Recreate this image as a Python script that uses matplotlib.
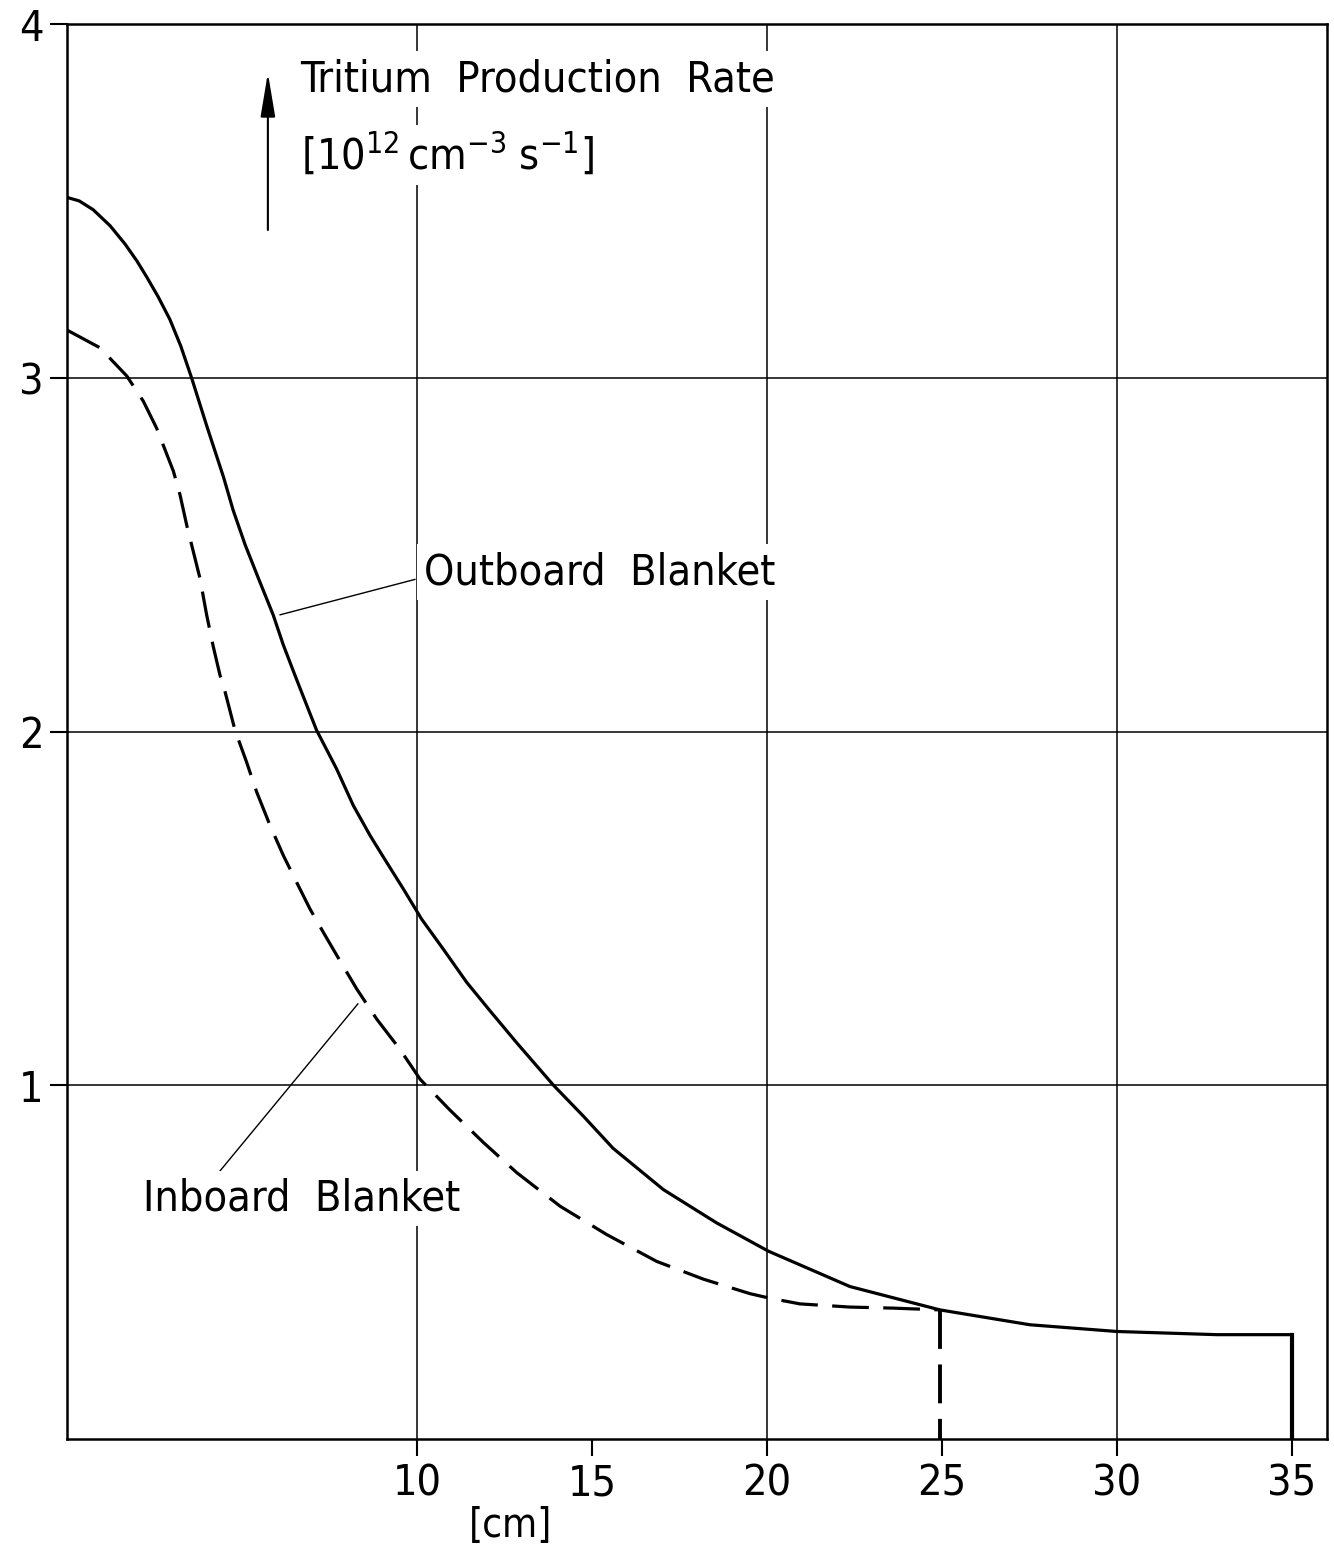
import matplotlib
matplotlib.use("Agg")
import matplotlib.pyplot as plt

# distance into blanket [cm] and tritium production rate [1e12 cm^-3 s^-1]
outboard_x = [0, 0.35, 0.75, 1.23, 1.66, 2.0, 2.29, 2.6, 2.94, 3.25, 3.56,
              3.99, 4.47, 4.75, 5.09, 5.47, 5.89, 6.18, 6.51, 6.66, 7.13,
              7.70, 8.18, 8.66, 9.04, 9.61, 10.13, 10.75, 11.42, 12.09,
              12.85, 13.9, 14.75, 15.6, 17.04, 18.56, 20.04, 22.37, 24.94,
              27.51, 29.99, 32.85, 35.0]
outboard_y = [3.51, 3.50, 3.475, 3.43, 3.378, 3.33, 3.283, 3.23, 3.165, 3.09,
              3.0, 2.865, 2.72, 2.625, 2.528, 2.433, 2.33, 2.245, 2.16, 2.122,
              2.004, 1.895, 1.791, 1.706, 1.645, 1.555, 1.47, 1.385, 1.291,
              1.21, 1.12, 1.0, 0.913, 0.822, 0.705, 0.611, 0.531, 0.431,
              0.365, 0.323, 0.304, 0.295, 0.295]

inboard_x = [0, 0.94, 1.71, 2.18, 2.56, 3.04, 3.23, 3.42, 3.80, 3.99, 4.18,
             4.37, 4.51, 4.80, 5.13, 5.42, 5.80, 6.18, 6.56, 6.94, 7.32, 7.71,
             8.28, 8.85, 9.51, 10.09, 10.94, 11.9, 12.85, 14.09, 15.42,
             16.85, 18.18, 19.51, 20.04, 20.94, 22.37, 23.61, 24.94]
inboard_y = [3.135, 3.085, 3.005, 2.934, 2.858, 2.736, 2.669, 2.584, 2.433,
             2.33, 2.24, 2.16, 2.115, 2.004, 1.914, 1.829, 1.735, 1.65, 1.574,
             1.499, 1.433, 1.367, 1.272, 1.187, 1.102, 1.017, 0.93, 0.838,
             0.753, 0.658, 0.578, 0.502, 0.452, 0.411, 0.399, 0.382, 0.373,
             0.37, 0.365]

x_ticks = [10, 15, 20, 25, 30, 35]
y_ticks = [1, 2, 3, 4]
grid_x = [10, 20, 30]
grid_y = [1, 2, 3]

plt.rcParams["font.family"] = ["DejaVu Sans"]
plt.rcParams["font.stretch"] = "condensed"
plt.rcParams["mathtext.fontset"] = "dejavusans"

fig = plt.figure(figsize=(13.34, 15.51), dpi=100)
ax = fig.add_axes([0.0502, 0.0722, 0.9446, 0.9123])
ax.set_xlim(0, 36)
ax.set_ylim(0, 4)

# grid
ax.vlines(grid_x, 0, 4, color="black", lw=1.1, zorder=1)
ax.hlines(grid_y, 0, 36, color="black", lw=1.1, zorder=1)

# curves
ax.plot(outboard_x, outboard_y, color="black", lw=2.3, zorder=3)
ax.plot([outboard_x[-1], outboard_x[-1]], [outboard_y[-1], 0],
        color="black", lw=3.0, zorder=3)
ax.plot(inboard_x, inboard_y, color="black", lw=2.3,
        dashes=(11.5, 4.5), zorder=3)
ax.plot([inboard_x[-1], inboard_x[-1]], [inboard_y[-1], 0], color="black",
        lw=2.8, dashes=(10, 4), zorder=3)

# axes style
for s in ax.spines.values():
    s.set_linewidth(1.8)
ax.set_xticks(x_ticks)
ax.set_yticks(y_ticks)
ax.tick_params(direction="out", length=12, width=1.5, labelsize=31, pad=5)

ax.text(12.66, -0.245, "[cm]", fontsize=29, ha="center", va="center")

box = dict(facecolor="white", edgecolor="none", pad=5)

# y label with arrow
ax.annotate("", xy=(5.74, 3.87), xytext=(5.74, 3.41),
            arrowprops=dict(arrowstyle="-|>,head_length=0.9,head_width=0.15",
                            mutation_scale=30, lw=1.5, color="black"))
ax.text(6.66, 3.81, "Tritium  Production  Rate", fontsize=31,
        ha="left", va="baseline", bbox=box, zorder=5)
ax.text(6.7, 3.63, r"$\left[10^{12}\,\mathrm{cm}^{-3}\;\mathrm{s}^{-1}\right]$",
        fontsize=31, ha="left", va="center", bbox=box, zorder=5)

# annotations
ax.plot([6.09, 9.94], [2.33, 2.43], color="black", lw=1.0, zorder=2)
ax.text(10.2, 2.45, "Outboard  Blanket", fontsize=31, ha="left",
        va="center", bbox=box, zorder=5)
ax.plot([8.31, 4.14], [1.23, 0.73], color="black", lw=1.0, zorder=2)
ax.text(2.17, 0.68, "Inboard  Blanket", fontsize=31, ha="left",
        va="center", bbox=box, zorder=5)

fig.savefig("out.png", dpi=100)
